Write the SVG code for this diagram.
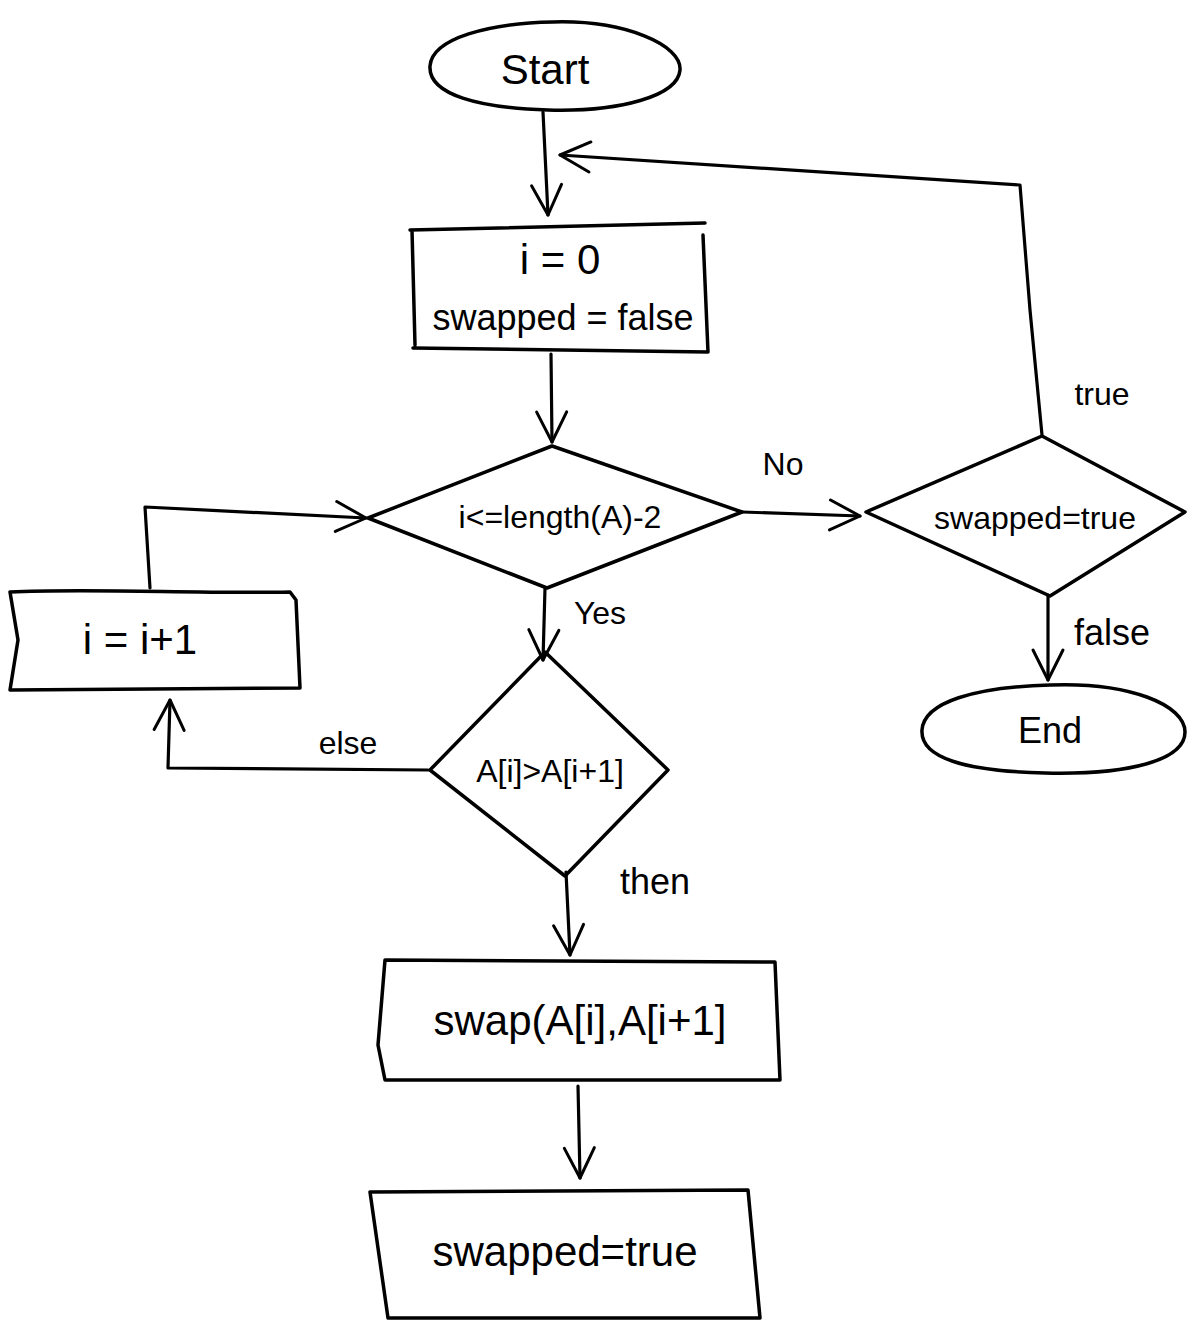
<svg xmlns="http://www.w3.org/2000/svg" width="1204" height="1333" viewBox="0 0 1204 1333">
  <style>
    .shape { fill: none; stroke: #000; stroke-width: 3.5; stroke-linecap: round; stroke-linejoin: round; }
    .edge { fill: none; stroke: #000; stroke-width: 3.2; stroke-linecap: round; stroke-linejoin: round; }
    .lbl { font-family: "Liberation Sans", "DejaVu Sans", sans-serif; fill: #000; text-anchor: middle; }
    .big { font-size: 42px; }
    .mid { font-size: 36px; }
    .dia { font-size: 32px; }
    .sm { font-size: 32px; }
  </style>
  <defs>
    <marker id="chevL" viewBox="0 0 12 12" refX="11" refY="6" markerWidth="36" markerHeight="36" markerUnits="userSpaceOnUse" orient="auto">
      <path d="M1,1 L11,6 L1,11" fill="none" stroke="#000" stroke-width="1" stroke-linecap="round" stroke-linejoin="round"/>
    </marker>
  </defs>

  <g id="connectors">
    <!-- Start -> init -->
    <path class="edge" d="M543,112 L548,215" marker-end="url(#chevL)"/>
    <!-- init -> loop test -->
    <path class="edge" d="M551,354 L552,442" marker-end="url(#chevL)"/>
    <!-- loop test -> swapped check (No) -->
    <path class="edge" d="M742,512 L860,516" marker-end="url(#chevL)"/>
    <!-- swapped check -> back to init (true) -->
    <path class="edge" d="M1042,435 L1030,310 L1020,185 L560,155" marker-end="url(#chevL)"/>
    <!-- swapped check -> End (false) -->
    <path class="edge" d="M1048,595 L1048,680" marker-end="url(#chevL)"/>
    <!-- loop test -> compare (Yes) -->
    <path class="edge" d="M545,588 L543,660" marker-end="url(#chevL)"/>
    <!-- compare -> increment (else) -->
    <path class="edge" d="M428,770 L168,768 L170,700" marker-end="url(#chevL)"/>
    <!-- increment -> loop test -->
    <path class="edge" d="M150,588 L145,507 L366,518" marker-end="url(#chevL)"/>
    <!-- compare -> swap (then) -->
    <path class="edge" d="M566,872 L570,955" marker-end="url(#chevL)"/>
    <!-- swap -> flag -->
    <path class="edge" d="M578,1086 L580,1178" marker-end="url(#chevL)"/>
    <text class="lbl sm" x="783" y="475">No</text>
    <text class="lbl sm" x="600" y="624">Yes</text>
    <text class="lbl sm" x="348" y="754">else</text>
    <text class="lbl mid" x="655" y="894">then</text>
    <text class="lbl sm" x="1102" y="405">true</text>
    <text class="lbl mid" x="1112" y="645">false</text>
  </g>

  <g id="start">
    <path class="shape" d="M553,22 C625,20 682,45 680,70 C678,96 620,112 548,110 C480,108 428,95 430,66 C432,38 490,23 553,22 Z"/>
    <text class="lbl big" x="545" y="84">Start</text>
  </g>

  <g id="init">
    <path class="shape" d="M410,230 L705,223 M412,230 L415,345 M413,348 L708,352 M703,235 L708,352"/>
    <text class="lbl big" x="560" y="274">i = 0</text>
    <text class="lbl mid" x="563" y="330">swapped = false</text>
  </g>

  <g id="loop-test">
    <path class="shape" d="M552,446 L742,512 L547,588 L368,518 Z"/>
    <text class="lbl dia" x="560" y="528">i&lt;=length(A)-2</text>
  </g>

  <g id="swapped-check">
    <path class="shape" d="M1042,436 L1185,512 L1050,596 L866,512 Z"/>
    <text class="lbl dia" x="1035" y="529">swapped=true</text>
  </g>

  <g id="end">
    <path class="shape" d="M1050,685 C1130,682 1185,705 1185,732 C1185,760 1130,775 1045,773 C965,771 920,758 922,730 C924,702 975,687 1050,685 Z"/>
    <text class="lbl mid" x="1050" y="743">End</text>
  </g>

  <g id="increment">
    <path class="shape" d="M10,592 C90,588 200,594 290,592 L296,600 L300,688 L10,690 L18,640 Z"/>
    <text class="lbl big" x="140" y="654">i = i+1</text>
  </g>

  <g id="compare">
    <path class="shape" d="M545,652 L668,770 L565,876 L430,770 Z"/>
    <text class="lbl dia" x="550" y="782">A[i]&gt;A[i+1]</text>
  </g>

  <g id="swap">
    <path class="shape" d="M385,960 L775,962 L780,1080 L385,1080 L378,1045 L385,960 Z"/>
    <text class="lbl big" x="580" y="1035">swap(A[i],A[i+1]</text>
  </g>

  <g id="set-flag">
    <path class="shape" d="M370,1192 L748,1190 L760,1318 L388,1318 L370,1192 Z"/>
    <text class="lbl big" x="565" y="1266">swapped=true</text>
  </g>
</svg>
